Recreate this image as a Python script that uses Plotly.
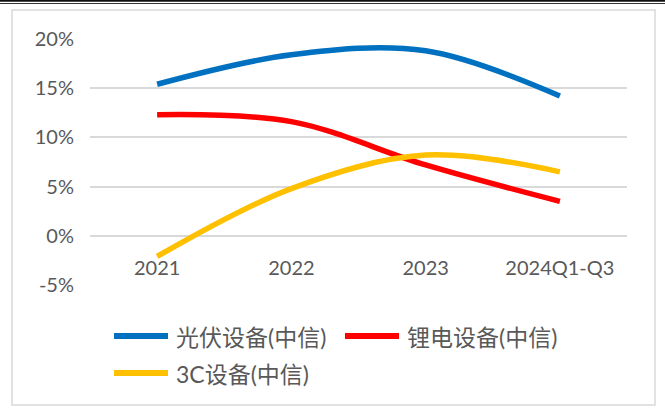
import plotly.graph_objects as go

# Growth rates by year (percent)
periods = ["2021", "2022", "2023", "2024Q1-Q3"]
series_names = ["光伏设备(中信)", "锂电设备(中信)", "3C设备(中信)"]
pv_equipment = [15.4, 18.4, 18.8, 14.2]
lithium_equipment = [12.3, 11.6, 7.2, 3.5]
c3_equipment = [-2.1, 4.8, 8.2, 6.5]
y_tick_values = [-5, 0, 5, 10, 15, 20]
y_tick_labels = ["-5%", "0%", "5%", "10%", "15%", "20%"]

colors = ["#0070C0", "#FF0000", "#FFC000"]
series_values = [pv_equipment, lithium_equipment, c3_equipment]

W, H = 665, 412
L, R, T, B = 90, 38, 39, 127
PW, PH = W - L - R, H - T - B


def px_x(x):
    return (x - L) / PW


def px_y(y):
    return (H - B - y) / PH


TEXT = "#595959"
GRID = "#D9D9D9"
FONT = "Lato, Noto Sans CJK SC, sans-serif"

fig = go.Figure()
for name, vals, col in zip(series_names, series_values, colors):
    fig.add_trace(go.Scatter(
        x=periods, y=vals, name=name, mode="lines",
        line=dict(color=col, width=5.5, shape="spline", smoothing=1.0),
        showlegend=False, hoverinfo="skip",
    ))

shapes = []
# outer frame and top rule
shapes.append(dict(type="rect", xref="paper", yref="paper",
                   x0=px_x(12), x1=px_x(655), y0=px_y(405), y1=px_y(10),
                   line=dict(color="#D9D9D9", width=1.5), fillcolor="rgba(0,0,0,0)",
                   layer="below"))
shapes.append(dict(type="line", xref="paper", yref="paper",
                   x0=px_x(0), x1=px_x(665), y0=px_y(0.8), y1=px_y(0.8),
                   line=dict(color="#111111", width=2)))
shapes.append(dict(type="line", xref="paper", yref="paper",
                   x0=px_x(0), x1=px_x(665), y0=px_y(3.5), y1=px_y(3.5),
                   line=dict(color="#333333", width=1)))

# legend keys
legend_slots = [(112, 336), (343, 336), (112, 373)]
annotations = []
for (lx, ly), name, col in zip(legend_slots, series_names, colors):
    shapes.append(dict(type="line", xref="paper", yref="paper",
                       x0=px_x(lx + 2), x1=px_x(lx + 56), y0=px_y(ly), y1=px_y(ly),
                       line=dict(color=col, width=6)))
    annotations.append(dict(xref="paper", yref="paper", x=px_x(lx + 62), y=px_y(ly + 1),
                            text=name, showarrow=False, xanchor="left", yanchor="middle",
                            font=dict(family=FONT, size=23, color=TEXT)))

fig.update_layout(
    width=W, height=H,
    margin=dict(l=L, r=R, t=T, b=B),
    paper_bgcolor="white", plot_bgcolor="white",
    shapes=shapes, annotations=annotations,
    xaxis=dict(
        type="category", range=[-0.5, 3.5],
        anchor="free", position=0.2,
        showgrid=False, zeroline=False, showline=False, ticks="",
        ticklabelstandoff=18,
        tickfont=dict(family=FONT, size=20, color=TEXT),
    ),
    yaxis=dict(
        range=[-5, 20], tickvals=y_tick_values, ticktext=y_tick_labels,
        showgrid=True, gridcolor=GRID, gridwidth=1.5,
        zeroline=False, showline=False, ticks="",
        ticklabelstandoff=15,
        tickfont=dict(family=FONT, size=20, color=TEXT),
    ),
    showlegend=False,
)

fig.write_html("out.html")
